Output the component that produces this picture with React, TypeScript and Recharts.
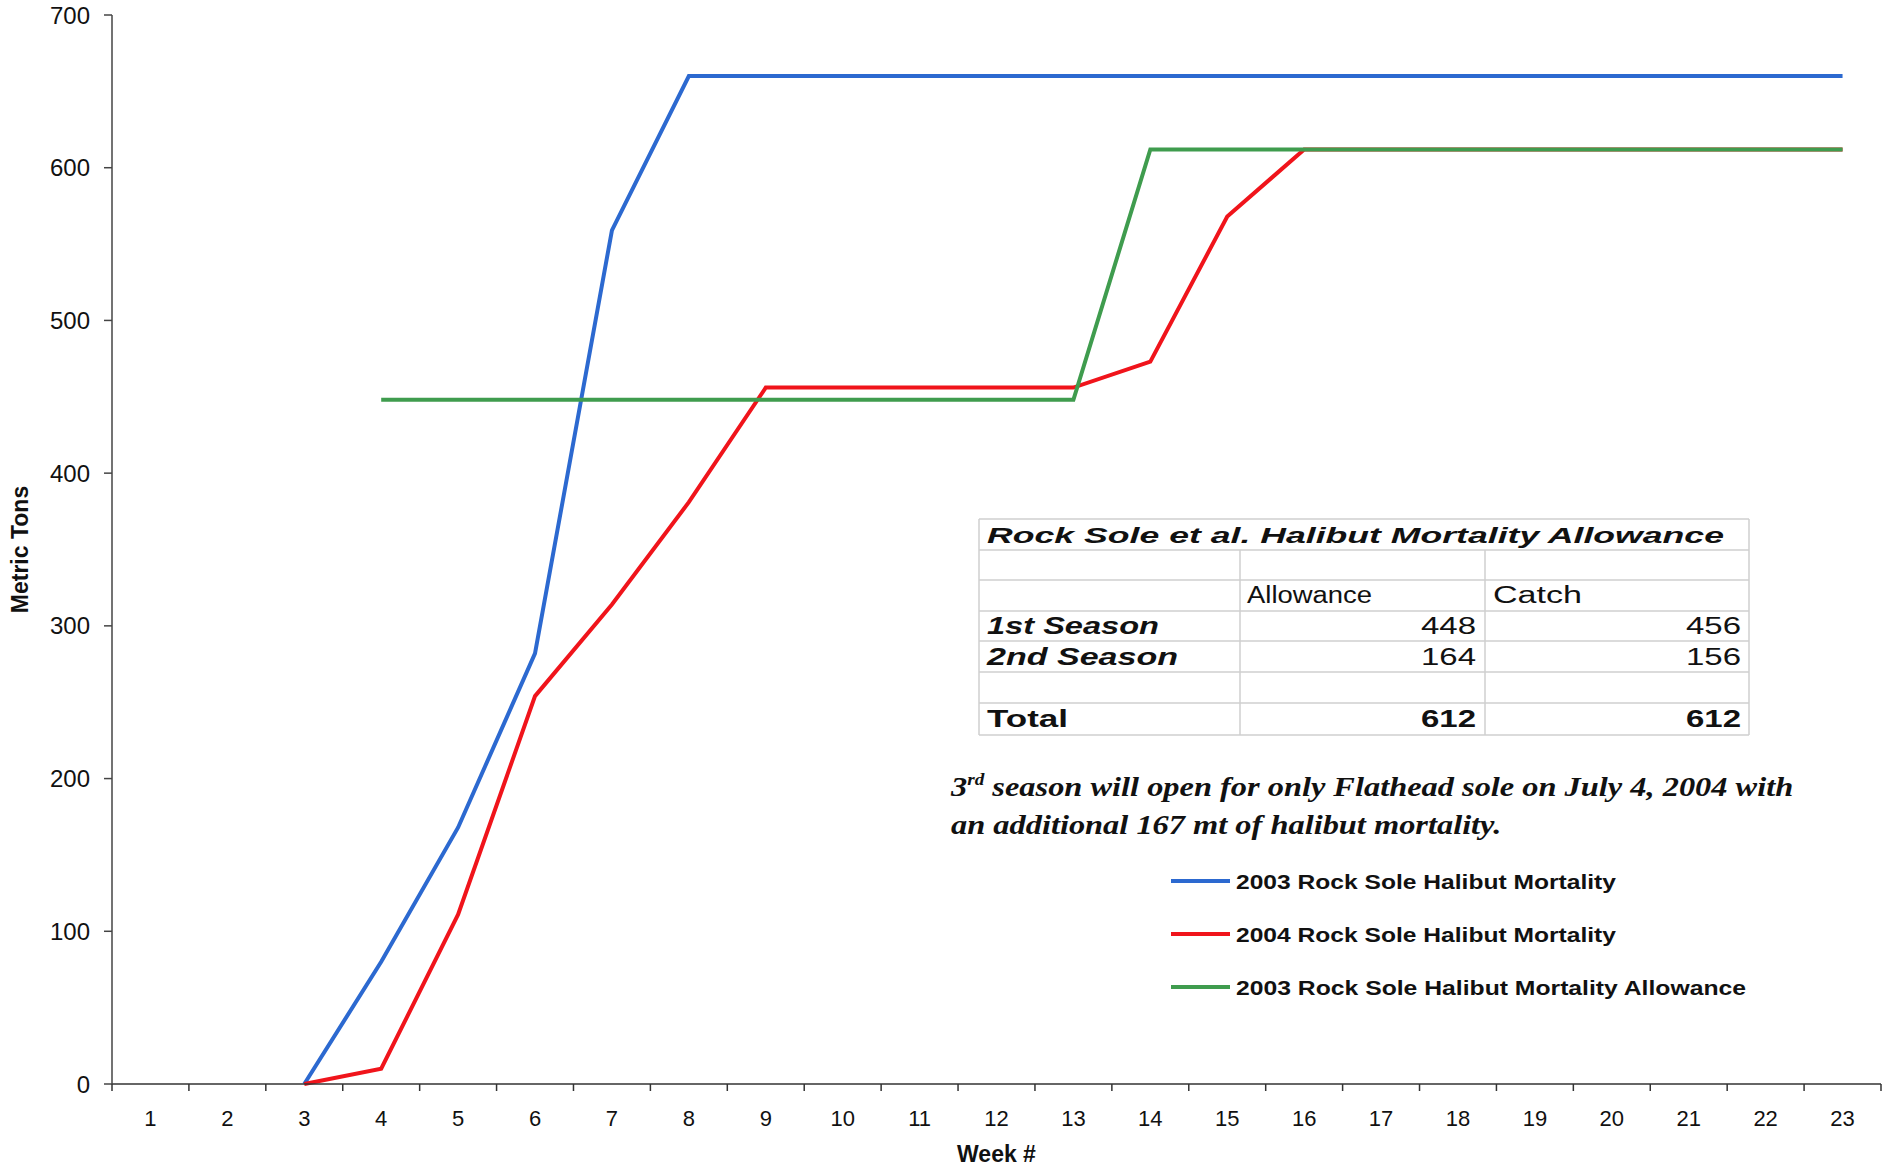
import React from 'react'
import { LineChart, Line, XAxis, YAxis, Legend } from 'recharts'

// weekly cumulative halibut mortality (metric tons)
const weeks = [1, 2, 3, 4, 5, 6, 7, 8, 9, 10, 11, 12, 13, 14, 15, 16, 17, 18, 19, 20, 21, 22, 23]
const weekEdges = [0.5, 1.5, 2.5, 3.5, 4.5, 5.5, 6.5, 7.5, 8.5, 9.5, 10.5, 11.5, 12.5, 13.5, 14.5, 15.5, 16.5, 17.5, 18.5, 19.5, 20.5, 21.5, 22.5, 23.5]
const yTicks = [0, 100, 200, 300, 400, 500, 600, 700]

const mort2003 = [null, null, 0, 80, 168, 282, 559, 660, 660, 660, 660, 660, 660, 660, 660, 660, 660, 660, 660, 660, 660, 660, 660]
const mort2004 = [null, null, 0, 10, 111, 254, 314, 381, 456, 456, 456, 456, 456, 473, 568, 612, 612, 612, 612, 612, 612, 612, 612]
const allow2003 = [null, null, null, 448, 448, 448, 448, 448, 448, 448, 448, 448, 448, 612, 612, 612, 612, 612, 612, 612, 612, 612, 612]

// inset table
const tableTitle = 'Rock Sole et al. Halibut Mortality Allowance'
const tableHeaders = ['Allowance', 'Catch']
const seasonLabels = ['1st Season', '2nd Season']
const seasonAllowance = [448, 164]
const seasonCatch = [456, 156]
const totalAllowance = 612
const totalCatch = 612

const data = weeks.map((w, i) => ({
  week: w,
  s1_2003: mort2003[i],
  s2_2004: mort2004[i],
  s3_allow: allow2003[i],
}))

const xTicks = [...weeks, ...weekEdges].sort((a, b) => a - b)

const SANS = 'Arial, "Liberation Sans", sans-serif'
const SERIF = '"Times New Roman", "Liberation Serif", serif'

// text squeezed/stretched to the width it has in the scanned original
function TText({ x, y, w, size = 22, weight = 'normal', italic = false, anchor = 'start', family = SANS, children }: any) {
  return (
    <text
      x={x}
      y={y}
      fontSize={size}
      fontWeight={weight}
      fontStyle={italic ? 'italic' : 'normal'}
      fontFamily={family}
      textAnchor={anchor}
      fill="#111"
      textLength={w}
      lengthAdjust="spacingAndGlyphs"
    >
      {children}
    </text>
  )
}

function WeekTick({ x, y, payload }: any) {
  const v = payload.value
  if (Number.isInteger(v)) {
    return (
      <text x={x} y={y + 42} textAnchor="middle" fontSize={22} fill="#111" fontFamily={SANS}>
        {v}
      </text>
    )
  }
  return <line x1={x} x2={x} y1={y} y2={y + 7} stroke="#333" strokeWidth={1.5} />
}

function LegendBox({ payload }: any) {
  const widths = [380, 380, 510]
  return (
    <svg width={620} height={160}>
      {(payload || []).map((p: any, i: number) => (
        <g key={p.value}>
          <line x1={11} x2={70} y1={26 + 53 * i} y2={26 + 53 * i} stroke={p.color} strokeWidth={4} />
          <TText x={76} y={34 + 53 * i} w={widths[i]} size={21} weight="bold">{p.value}</TText>
        </g>
      ))}
    </svg>
  )
}

function InsetTable() {
  const rowY = [519, 550, 580, 611, 641, 672, 703, 735]
  const colX = [979, 1240, 1485, 1749]
  const labelW = [172, 191]
  const grid = '#cfcfcf'
  return (
    <g>
      {rowY.map((y) => (
        <line key={'h' + y} x1={colX[0]} x2={colX[3]} y1={y} y2={y} stroke={grid} strokeWidth={1.5} />
      ))}
      <line x1={colX[0]} x2={colX[0]} y1={rowY[0]} y2={rowY[7]} stroke={grid} strokeWidth={1.5} />
      <line x1={colX[3]} x2={colX[3]} y1={rowY[0]} y2={rowY[7]} stroke={grid} strokeWidth={1.5} />
      <line x1={colX[1]} x2={colX[1]} y1={rowY[1]} y2={rowY[7]} stroke={grid} strokeWidth={1.5} />
      <line x1={colX[2]} x2={colX[2]} y1={rowY[1]} y2={rowY[7]} stroke={grid} strokeWidth={1.5} />

      <TText x={987} y={543} w={737} size={22} weight="bold" italic>{tableTitle}</TText>

      <TText x={1247} y={603} w={125} size={23}>{tableHeaders[0]}</TText>
      <TText x={1493} y={603} w={89} size={23}>{tableHeaders[1]}</TText>

      {seasonLabels.map((s, i) => (
        <g key={s}>
          <TText x={987} y={634 + 31 * i} w={labelW[i]} size={23} weight="bold" italic>{s}</TText>
          <TText x={1476} y={634 + 31 * i} w={55} size={23} anchor="end">{seasonAllowance[i]}</TText>
          <TText x={1741} y={634 + 31 * i} w={55} size={23} anchor="end">{seasonCatch[i]}</TText>
        </g>
      ))}

      <TText x={987} y={727} w={81} size={23} weight="bold">Total</TText>
      <TText x={1476} y={727} w={55} size={23} weight="bold" anchor="end">{totalAllowance}</TText>
      <TText x={1741} y={727} w={55} size={23} weight="bold" anchor="end">{totalCatch}</TText>
    </g>
  )
}

function Note() {
  return (
    <g>
      <text transform="translate(951,796) scale(1.2,1)" fontSize={27} fontWeight="bold" fontStyle="italic"
        fontFamily={SERIF} fill="#111">
        3<tspan dy={-11} fontSize={16}>rd</tspan>
        <tspan dy={11}> season will open for only Flathead sole on July 4, 2004 with</tspan>
      </text>
      <text transform="translate(951,834) scale(1.2,1)" fontSize={27} fontWeight="bold" fontStyle="italic"
        fontFamily={SERIF} fill="#111">
        an additional 167 mt of halibut mortality.
      </text>
    </g>
  )
}

export default function App() {
  return (
    <div style={{ position: 'absolute', left: 0, top: 0, width: 1888, height: 1166, background: '#fff' }}>
      <LineChart width={1888} height={1166} data={data} margin={{ top: 15, right: 7, bottom: 0, left: 0 }}>
        <XAxis
          dataKey="week"
          type="number"
          domain={[0.5, 23.5]}
          ticks={xTicks}
          interval={0}
          tickSize={0}
          tickMargin={0}
          tick={<WeekTick />}
          height={82}
          stroke="#333"
          strokeWidth={1.5}
          label={{ value: 'Week #', position: 'insideBottom', offset: 4, fontSize: 23, fontWeight: 'bold', fill: '#111', fontFamily: SANS }}
        />
        <XAxis xAxisId="top" orientation="top" dataKey="week" type="number" domain={[0.5, 23.5]}
          height={0} tick={false} tickLine={false} stroke="#888" strokeWidth={1.5} />
        <YAxis
          domain={[0, 700]}
          ticks={yTicks}
          width={112}
          interval={0}
          tickSize={8}
          tickMargin={14}
          stroke="#444"
          strokeWidth={1.5}
          tick={{ fontSize: 24, fill: '#111', fontFamily: SANS }}
          label={{ value: 'Metric Tons', angle: -90, position: 'insideLeft', offset: 20, fontSize: 23, fontWeight: 'bold', fill: '#111', fontFamily: SANS, style: { textAnchor: 'middle' } }}
        />
        <YAxis yAxisId="right" orientation="right" domain={[0, 700]} width={0}
          tick={false} tickLine={false} stroke="#888" strokeWidth={1.5} />
        <Legend
          layout="vertical"
          align="center"
          verticalAlign="middle"
          itemSorter="dataKey"
          content={<LegendBox />}
          wrapperStyle={{ left: 1160, top: 855, width: 620, height: 160 }}
        />
        <Line dataKey="s1_2003" name="2003 Rock Sole Halibut Mortality" stroke="#2c69d0" strokeWidth={4}
          dot={false} isAnimationActive={false} />
        <Line dataKey="s2_2004" name="2004 Rock Sole Halibut Mortality" stroke="#f0141b" strokeWidth={4}
          dot={false} isAnimationActive={false} />
        <Line dataKey="s3_allow" name="2003 Rock Sole Halibut Mortality Allowance" stroke="#3f9c4e" strokeWidth={4}
          dot={false} isAnimationActive={false} />
      </LineChart>
      <svg width={1888} height={1166} style={{ position: 'absolute', left: 0, top: 0, pointerEvents: 'none' }}>
        <InsetTable />
        <Note />
      </svg>
    </div>
  )
}
